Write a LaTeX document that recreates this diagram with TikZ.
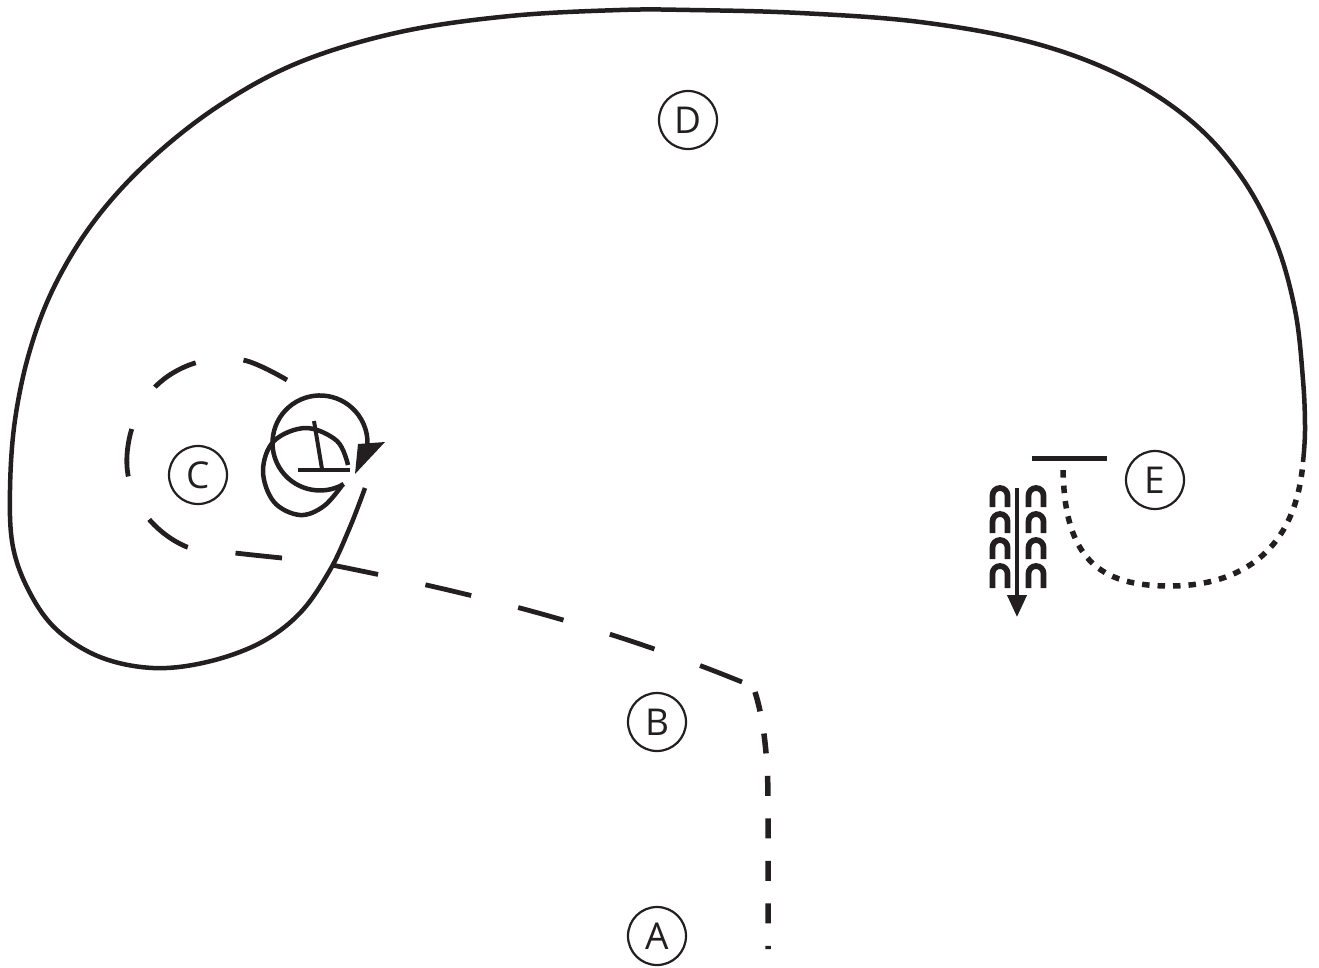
\documentclass[tikz,border=0pt]{standalone}
\usepackage{fontspec}
\setmainfont{Open Sans}
\usetikzlibrary{arrows.meta}
\definecolor{ink}{HTML}{231F20}
\begin{document}
\begin{tikzpicture}[x=1pt,y=-1pt,line join=round,
  solidline/.style={line width=4.5pt,draw=ink},
  dashline/.style={line width=4.8pt,draw=ink,dash pattern=on 48pt off 48.3pt},
  dashline2/.style={line width=5.5pt,draw=ink,dash pattern=on 20pt off 22.5pt},
  dotline/.style={line width=5.5pt,draw=ink,dash pattern=on 7.5pt off 8pt,dash phase=8pt},
  knit/.style={line width=5.8pt,draw=ink},
  lbl/.style={circle,draw=ink,line width=2.2pt,minimum size=58pt,inner sep=0pt,
    font=\fontsize{37}{37}\selectfont,text=ink}]
\useasboundingbox (0,0) rectangle (1319,967);

% labels
\node[lbl] (D) at (688,120) {D};
\node[lbl] (C) at (198,475) {C};
\node[lbl] (B) at (657,722) {B};
\node[lbl] (A) at (657,936) {A};
\node[lbl] (E) at (1155,480) {E};

% main solid curve
\draw[solidline] plot[smooth,tension=0.6] coordinates {
 (365,488) (350,527) (330,570) (300,613) (260,643) (207,662) (153,668)
 (100,657) (57,630) (30,593) (13,547) (10,490) (15,420) (30,350) (55,285)
 (95,220) (150,160) (220,105) (300,62) (400,32) (510,16) (620,10) (690,10)
 (800,13) (920,22) (1030,42) (1120,75) (1190,120) (1240,175) (1275,240)
 (1295,310) (1303,380) (1305,430) (1303,462)};

% dotted tail
\draw[dotline] (1303,462) .. controls (1295,560) and (1230,586) .. (1170,586)
  .. controls (1100,586) and (1063,560) .. (1063,464);

% bar near E
\draw[line width=5pt,draw=ink] (1032,458) -- (1107,458);

% dashed spiral around C
\draw[dashline] plot[smooth,tension=0.6] coordinates {
 (287,380) (243,360) (195,363) (155,387) (132,428) (128,475) (148,518)
 (187,547) (235,553) (282,558)};
% dashed path to B and A
\draw[dashline,dash pattern=on 47pt off 48.5pt] (332,565) .. controls (472,593) and (602,625) .. (742,682);
\draw[dashline2] (755,692) .. controls (764,720) and (768,760) .. (768,800) -- (768,949);

% symbol near C
\draw[line width=4.5pt,draw=ink]
  (343.75,484.1) arc[start angle=60,end angle=362,radius=47.5];
\fill[ink] (355,474) -- (358,444) -- (385,442) -- cycle;
\draw[line width=4.5pt,draw=ink] plot[smooth,tension=0.6] coordinates {
 (348,465) (337,441) (306,428) (274,441) (263,471) (274,502) (300,515)
 (324,506) (343,484)};
\draw[line width=4.5pt,draw=ink] (298,470) -- (350,470);
\draw[line width=4pt,draw=ink] (314,421) -- (322,469);

% knitting symbol
\foreach \cx in {1000,1036}{
  \foreach \t in {485,511,537}{
    \draw[knit] (\cx-7.5,\t+22) -- (\cx-7.5,\t+10.5) arc[start angle=180,end angle=360,radius=7.5] -- (\cx+7.5,\t+22);
  }
  \draw[knit] (\cx-7.5,588) -- (\cx-7.5,573.5) arc[start angle=180,end angle=360,radius=7.5] -- (\cx+7.5,588);
}
\draw[line width=4pt,draw=ink,-{Triangle[length=22pt,width=19pt]}] (1017,488) -- (1017,617);
\end{tikzpicture}
\end{document}
